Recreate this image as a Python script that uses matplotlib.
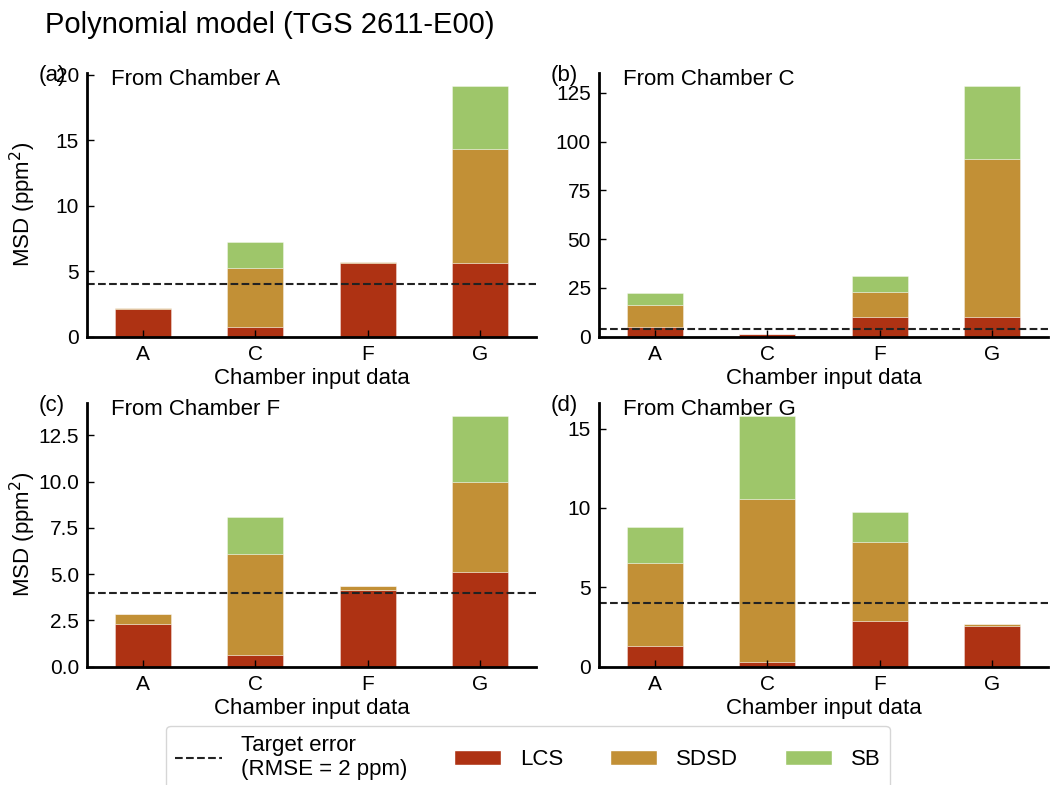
#stacked MSD bars for the polynomial model, one panel per source chamber

import matplotlib
matplotlib.use('Agg')
from matplotlib import pyplot as plt
from matplotlib.lines import Line2D
from matplotlib.patches import Patch
from matplotlib.ticker import MultipleLocator

plt.rcParams['font.family'] = ['Liberation Sans', 'DejaVu Sans']

#data
chambers = ['A', 'C', 'F', 'G']
panel_letters = ['(a)', '(b)', '(c)', '(d)']
panel_titles = ['From Chamber A', 'From Chamber C',
                'From Chamber F', 'From Chamber G']

lcs_a = [2.12, 0.77, 5.61, 5.66]
sdsd_a = [0.07, 4.51, 0.08, 8.69]
sb_a = [0.02, 1.94, 0.02, 4.84]

lcs_c = [5.1, 1.2, 10.3, 10.1]
sdsd_c = [11.2, 0.05, 12.8, 81.0]
sb_c = [6.0, 0.05, 8.1, 37.6]

lcs_f = [2.33, 0.63, 4.12, 5.09]
sdsd_f = [0.50, 5.47, 0.25, 4.87]
sb_f = [0.03, 1.97, 0.01, 3.61]

lcs_g = [1.31, 0.32, 2.90, 2.59]
sdsd_g = [5.23, 10.26, 4.97, 0.10]
sb_g = [2.29, 5.24, 1.89, 0.01]

target_msd = 4.0   # RMSE = 2 ppm
tick_steps = [5, 25, 2.5, 5]

c_lcs = '#ae3213'
c_sdsd = '#c29036'
c_sb = '#9ec66a'
edge = (1, 1, 1, 0.5)

W, H = 1051, 785
fig = plt.figure(figsize=(W / 100, H / 100), dpi=100)

#axes boxes in pixels: left, top, right, bottom
boxes = [(87.3, 73, 535.7, 336.7), (599.3, 73, 1047.7, 336.7),
         (87.3, 403, 535.7, 666.7), (599.3, 403, 1047.7, 666.7)]

all_data = [(lcs_a, sdsd_a, sb_a), (lcs_c, sdsd_c, sb_c),
            (lcs_f, sdsd_f, sb_f), (lcs_g, sdsd_g, sb_g)]

for i, (l, t, r, b) in enumerate(boxes):
    ax = fig.add_axes([l / W, 1 - b / H, (r - l) / W, (b - t) / H])
    lcs, sdsd, sb = all_data[i]
    x = range(len(chambers))
    bottom2 = [p + q for p, q in zip(lcs, sdsd)]
    ax.bar(x, lcs, width=0.5, color=c_lcs, edgecolor=edge, linewidth=0.5)
    ax.bar(x, sdsd, width=0.5, bottom=lcs, color=c_sdsd,
           edgecolor=edge, linewidth=0.5)
    ax.bar(x, sb, width=0.5, bottom=bottom2, color=c_sb,
           edgecolor=edge, linewidth=0.5)
    ax.axhline(target_msd, color='#222222', linestyle='--', linewidth=1.5)

    ax.set_xlim(-0.5, 3.5)
    ax.set_xticks(list(x))
    ax.set_xticklabels(chambers)
    ax.yaxis.set_major_locator(MultipleLocator(tick_steps[i]))

    for side in ['top', 'right']:
        ax.spines[side].set_visible(False)
    for side in ['left', 'bottom']:
        ax.spines[side].set_linewidth(2)
    ax.tick_params(direction='in', length=5, width=1, labelsize=15, pad=6)

    ax.set_xlabel('Chamber input data', fontsize=16, labelpad=3)
    if i % 2 == 0:
        ax.set_ylabel('MSD (ppm$^2$)', fontsize=16)
        ax.yaxis.set_label_coords(-0.111, 0.5)

    ax.text(24 / (r - l), 1 - 12 / (b - t), panel_titles[i],
            transform=ax.transAxes, fontsize=16, va='baseline')
    fig.text((l - 49) / W, 1 - (t + 3) / H, panel_letters[i],
             fontsize=16, va='center', ha='left')

#title
fig.text(45 / W, 1 - 33 / H, 'Polynomial model (TGS 2611-E00)',
         fontsize=21, va='baseline')

#legend along the bottom
handles = [Line2D([0], [0], color='#222222', linestyle='--', linewidth=1.5),
           Patch(facecolor=c_lcs, edgecolor='white'),
           Patch(facecolor=c_sdsd, edgecolor='white'),
           Patch(facecolor=c_sb, edgecolor='white')]
labels = ['Target error\n(RMSE = 2 ppm)', 'LCS', 'SDSD', 'SB']
fig.legend(handles, labels, loc='upper center', ncol=4,
           bbox_to_anchor=(528 / W, 1 - 726 / H), borderaxespad=0,
           fontsize=16, handlelength=2.1, handletextpad=0.87,
           columnspacing=2.1)

fig.savefig('out.png', dpi=100)
